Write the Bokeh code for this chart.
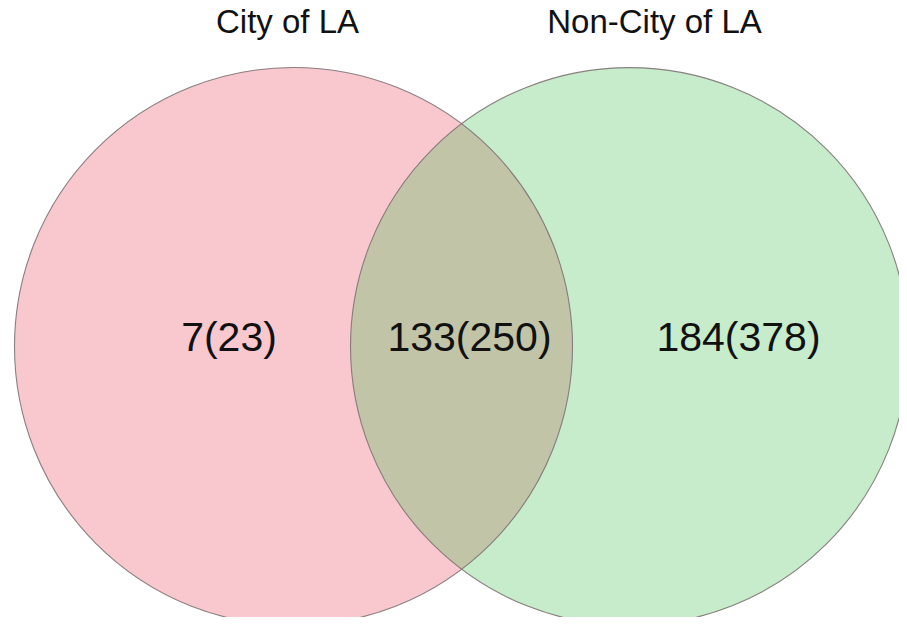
from bokeh.plotting import figure
from bokeh.models import Range1d
from bokeh.core.properties import value
from bokeh.embed import file_html
from bokeh.resources import INLINE

# ---- data ----
set_names = ["City of LA", "Non-City of LA"]
only_city = [7, 23]
both_sets = [133, 250]
only_non_city = [184, 378]

region_counts = [only_city, both_sets, only_non_city]
region_labels = [f"{a}({b})" for a, b in region_counts]

# ---- layout (pixel-like coordinates, y downward) ----
circle_x = [293, 629]
circle_y = [346, 346]
circle_r = 279
label_x = [228.5, 469, 738]
label_y = [336, 336, 336]
title_x = [287, 654]
title_y = [20.5, 20.5]

p = figure(width=899, height=617, x_range=Range1d(0, 899), y_range=Range1d(617, 0),
           output_backend="svg", toolbar_location=None, min_border=0)
p.axis.visible = False
p.grid.visible = False
p.outline_line_color = None
p.background_fill_color = "white"
p.border_fill_color = "white"

# left set: solid pink
p.circle(x=[circle_x[0]], y=[circle_y[0]], radius=circle_r,
         fill_color="#F9C8CF", fill_alpha=1.0, line_color=None)
# right set: translucent green over it
p.circle(x=[circle_x[1]], y=[circle_y[1]], radius=circle_r,
         fill_color="#30B93E", fill_alpha=0.27, line_color=None)
# outlines
p.circle(x=circle_x, y=circle_y, radius=circle_r,
         fill_alpha=0, line_color="#7d7373", line_width=1.1, line_alpha=0.9)

p.text(x=label_x, y=label_y, text=region_labels,
       text_font=value("Liberation Sans"), text_font_size="41px",
       text_align="center", text_baseline="middle", text_color="#111111")

p.text(x=title_x, y=title_y, text=set_names,
       text_font=value("Liberation Sans"), text_font_size="33px",
       text_align="center", text_baseline="middle", text_color="#111111")

open("out.html", "w").write(file_html(p, INLINE))
